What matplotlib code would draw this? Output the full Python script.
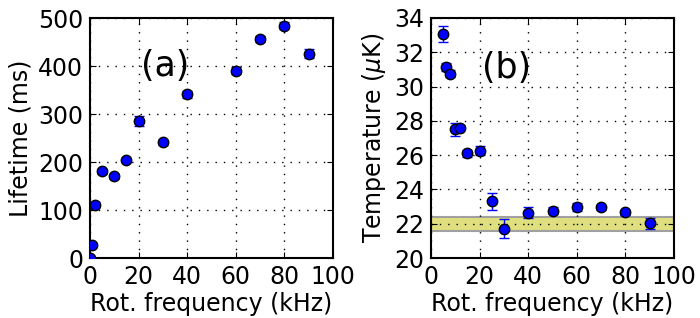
import numpy as np
import matplotlib
matplotlib.use('Agg')
import matplotlib.pyplot as plt

# (a) lifetime vs rotation frequency
freq_a = [0, 1, 2, 5, 10, 15, 20, 30, 40, 60, 70, 80, 90]
life_a = [0, 28, 111, 181, 170, 204, 285, 241, 341, 390, 456, 484, 426]
err_a = [3, 4, 5, 5, 5, 5, 10, 5, 7, 7, 6, 7, 9]

# (b) temperature vs rotation frequency
freq_b = [5, 6, 8, 10, 12, 15, 20, 25, 30, 40, 50, 60, 70, 80, 90]
temp_b = [33.07, 31.15, 30.75, 27.5, 27.6, 26.1, 26.25, 23.3, 21.7,
          22.65, 22.75, 22.97, 22.97, 22.67, 22.02]
err_b = [0.45, 0.22, 0.2, 0.37, 0.15, 0.2, 0.27, 0.5, 0.55,
         0.33, 0.2, 0.25, 0.15, 0.15, 0.3]
band_lo, band_hi = 21.6, 22.4

plt.rcParams['font.family'] = 'DejaVu Sans'
fig = plt.figure(figsize=(7, 3.18), dpi=100)
W, H = 700., 318.
ax1 = fig.add_axes([90/W, 1-258/H, 243/W, 240/H])
ax2 = fig.add_axes([431/W, 1-258/H, 243/W, 240/H])

def style(ax):
    ax.grid(True, color='k', linestyle=(0, (1, 5)), linewidth=1)
    ax.tick_params(direction='in', top=True, right=True, length=4,
                   labelsize=17, pad=5)
    for s in ax.spines.values():
        s.set_linewidth(1.5)
    ax.set_xlim(0, 100)
    ax.set_xticks(np.arange(0, 101, 20))
    ax.set_xlabel('Rot. frequency (kHz)', fontsize=17, labelpad=2)

ax1.errorbar(freq_a, life_a, yerr=err_a, fmt='o', color='blue', ecolor='blue',
             mec='k', ms=7.5, capsize=3.5, elinewidth=1, zorder=3)
ax1.set_ylim(0, 500)
ax1.set_yticks(np.arange(0, 501, 100))
ax1.set_ylabel('Lifetime (ms)', fontsize=17, labelpad=4)
ax1.text(31, 400, '(a)', fontsize=25, ha='center', va='center')
style(ax1)

ax2.fill_between([0, 100], band_lo, band_hi, facecolor='#dfdf80',
                 edgecolor='#a0a0a0', linewidth=1.5, zorder=1)
ax2.errorbar(freq_b, temp_b, yerr=err_b, fmt='o', color='blue', ecolor='blue',
             mec='k', ms=7.5, capsize=3.5, elinewidth=1, zorder=3)
ax2.set_ylim(20, 34)
ax2.set_yticks(np.arange(20, 35, 2))
ax2.set_ylabel(r'Temperature ($\mu$K)', fontsize=17, labelpad=4)
ax2.text(31, 31.1, '(b)', fontsize=25, ha='center', va='center')
style(ax2)

fig.savefig('out.png', dpi=100, facecolor='white')
